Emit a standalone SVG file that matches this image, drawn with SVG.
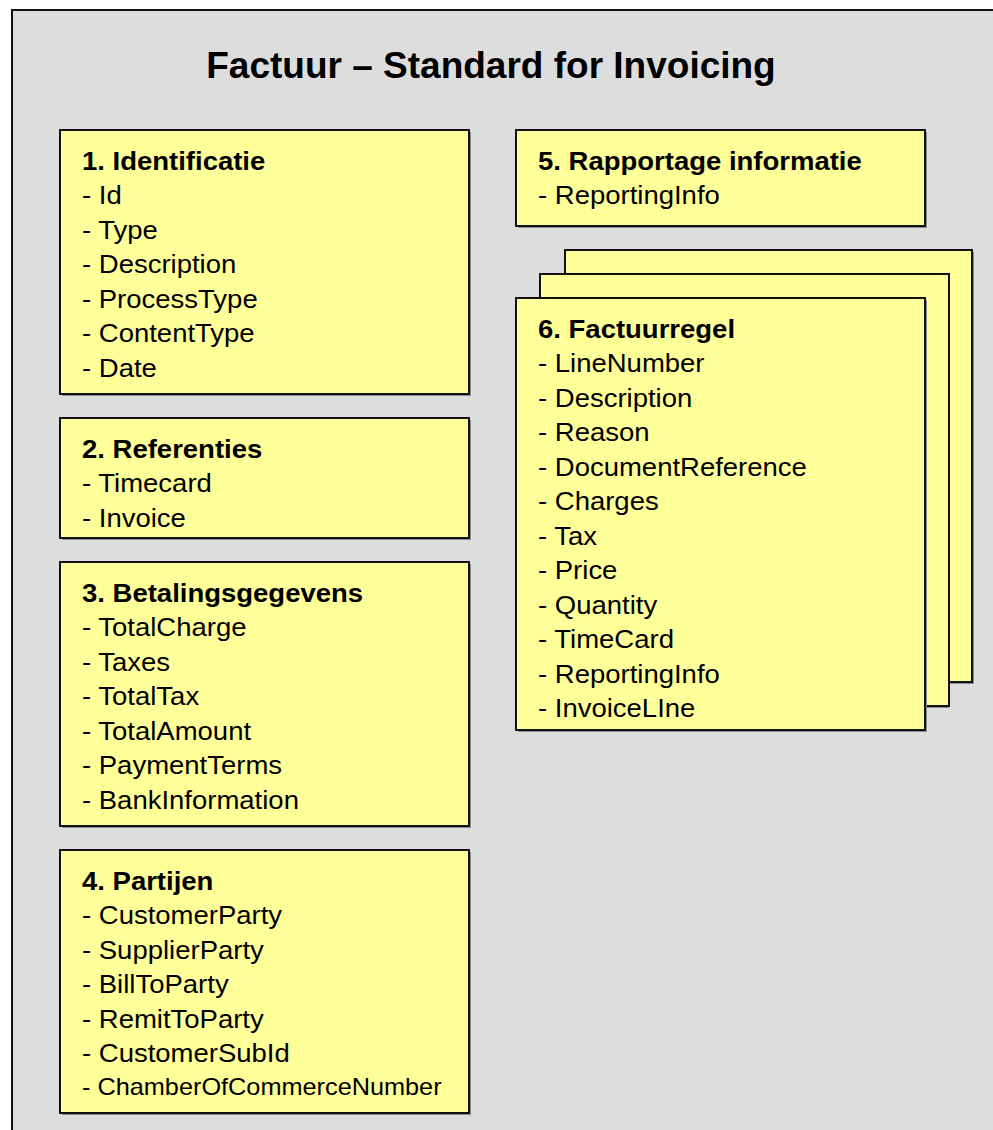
<svg xmlns="http://www.w3.org/2000/svg" width="993" height="1130" viewBox="0 0 993 1130">
  <style>
    .frame { fill: #DDDDDD; stroke: #111; stroke-width: 2; }
    .box { fill: #FFFF99; stroke: #111; stroke-width: 2; }
    .shadow { fill: #8a8a8a; }
    .t { font-family: "Liberation Sans", Arial, sans-serif; font-size: 25px; fill: #000; }
    .h { font-weight: bold; }
    .sm { font-size: 23px; }
    .title { font-family: "Liberation Sans", Arial, sans-serif; font-size: 37px; font-weight: bold; fill: #000; }
  </style>
  <rect x="0" y="0" width="993" height="1130" fill="#FFFFFF"/>
  <rect class="frame" x="12" y="10" width="1000" height="1200"/>
  <text class="title" x="491" y="78" text-anchor="middle">Factuur – Standard for Invoicing</text>

  <g id="connectors"></g>

  <g id="node1">
    <rect class="shadow" x="62" y="132" width="409" height="264"/>
    <rect class="box" x="60" y="130" width="409" height="264"/>
    <text class="t" transform="translate(82,0) scale(1.1,1)">
      <tspan class="h" x="0" y="170">1. Identificatie</tspan>
      <tspan x="0" y="204.5">- Id</tspan>
      <tspan x="0" y="239">- Type</tspan>
      <tspan x="0" y="273.5">- Description</tspan>
      <tspan x="0" y="308">- ProcessType</tspan>
      <tspan x="0" y="342.5">- ContentType</tspan>
      <tspan x="0" y="377">- Date</tspan>
    </text>
  </g>

  <g id="node2">
    <rect class="shadow" x="62" y="420" width="409" height="120"/>
    <rect class="box" x="60" y="418" width="409" height="120"/>
    <text class="t" transform="translate(82,0) scale(1.1,1)">
      <tspan class="h" x="0" y="458">2. Referenties</tspan>
      <tspan x="0" y="492.5">- Timecard</tspan>
      <tspan x="0" y="527">- Invoice</tspan>
    </text>
  </g>

  <g id="node3">
    <rect class="shadow" x="62" y="564" width="409" height="264"/>
    <rect class="box" x="60" y="562" width="409" height="264"/>
    <text class="t" transform="translate(82,0) scale(1.1,1)">
      <tspan class="h" x="0" y="602">3. Betalingsgegevens</tspan>
      <tspan x="0" y="636.5">- TotalCharge</tspan>
      <tspan x="0" y="671">- Taxes</tspan>
      <tspan x="0" y="705.5">- TotalTax</tspan>
      <tspan x="0" y="740">- TotalAmount</tspan>
      <tspan x="0" y="774.5">- PaymentTerms</tspan>
      <tspan x="0" y="809">- BankInformation</tspan>
    </text>
  </g>

  <g id="node4">
    <rect class="shadow" x="62" y="852" width="409" height="263"/>
    <rect class="box" x="60" y="850" width="409" height="263"/>
    <text class="t" transform="translate(82,0) scale(1.1,1)">
      <tspan class="h" x="0" y="890">4. Partijen</tspan>
      <tspan x="0" y="924.5">- CustomerParty</tspan>
      <tspan x="0" y="959">- SupplierParty</tspan>
      <tspan x="0" y="993.5">- BillToParty</tspan>
      <tspan x="0" y="1028">- RemitToParty</tspan>
      <tspan x="0" y="1062.5">- CustomerSubId</tspan>
      <tspan class="sm" x="0" y="1095">- ChamberOfCommerceNumber</tspan>
    </text>
  </g>

  <g id="node5">
    <rect class="shadow" x="518" y="132" width="409" height="96"/>
    <rect class="box" x="516" y="130" width="409" height="96"/>
    <text class="t" transform="translate(538,0) scale(1.1,1)">
      <tspan class="h" x="0" y="170">5. Rapportage informatie</tspan>
      <tspan x="0" y="204">- ReportingInfo</tspan>
    </text>
  </g>

  <g id="node6">
    <rect class="shadow" x="567" y="252" width="407" height="432"/>
    <rect class="box" x="565" y="250" width="407" height="432"/>
    <rect class="shadow" x="542" y="276" width="407" height="432"/>
    <rect class="box" x="540" y="274" width="409" height="432"/>
    <rect class="shadow" x="518" y="300" width="409" height="432"/>
    <rect class="box" x="516" y="298" width="409" height="432"/>
    <text class="t" transform="translate(538,0) scale(1.1,1)">
      <tspan class="h" x="0" y="338">6. Factuurregel</tspan>
      <tspan x="0" y="372.5">- LineNumber</tspan>
      <tspan x="0" y="407">- Description</tspan>
      <tspan x="0" y="441.5">- Reason</tspan>
      <tspan x="0" y="476">- DocumentReference</tspan>
      <tspan x="0" y="510.5">- Charges</tspan>
      <tspan x="0" y="545">- Tax</tspan>
      <tspan x="0" y="579.5">- Price</tspan>
      <tspan x="0" y="614">- Quantity</tspan>
      <tspan x="0" y="648.5">- TimeCard</tspan>
      <tspan x="0" y="683">- ReportingInfo</tspan>
      <tspan x="0" y="717.5">- InvoiceLIne</tspan>
    </text>
  </g>
</svg>
